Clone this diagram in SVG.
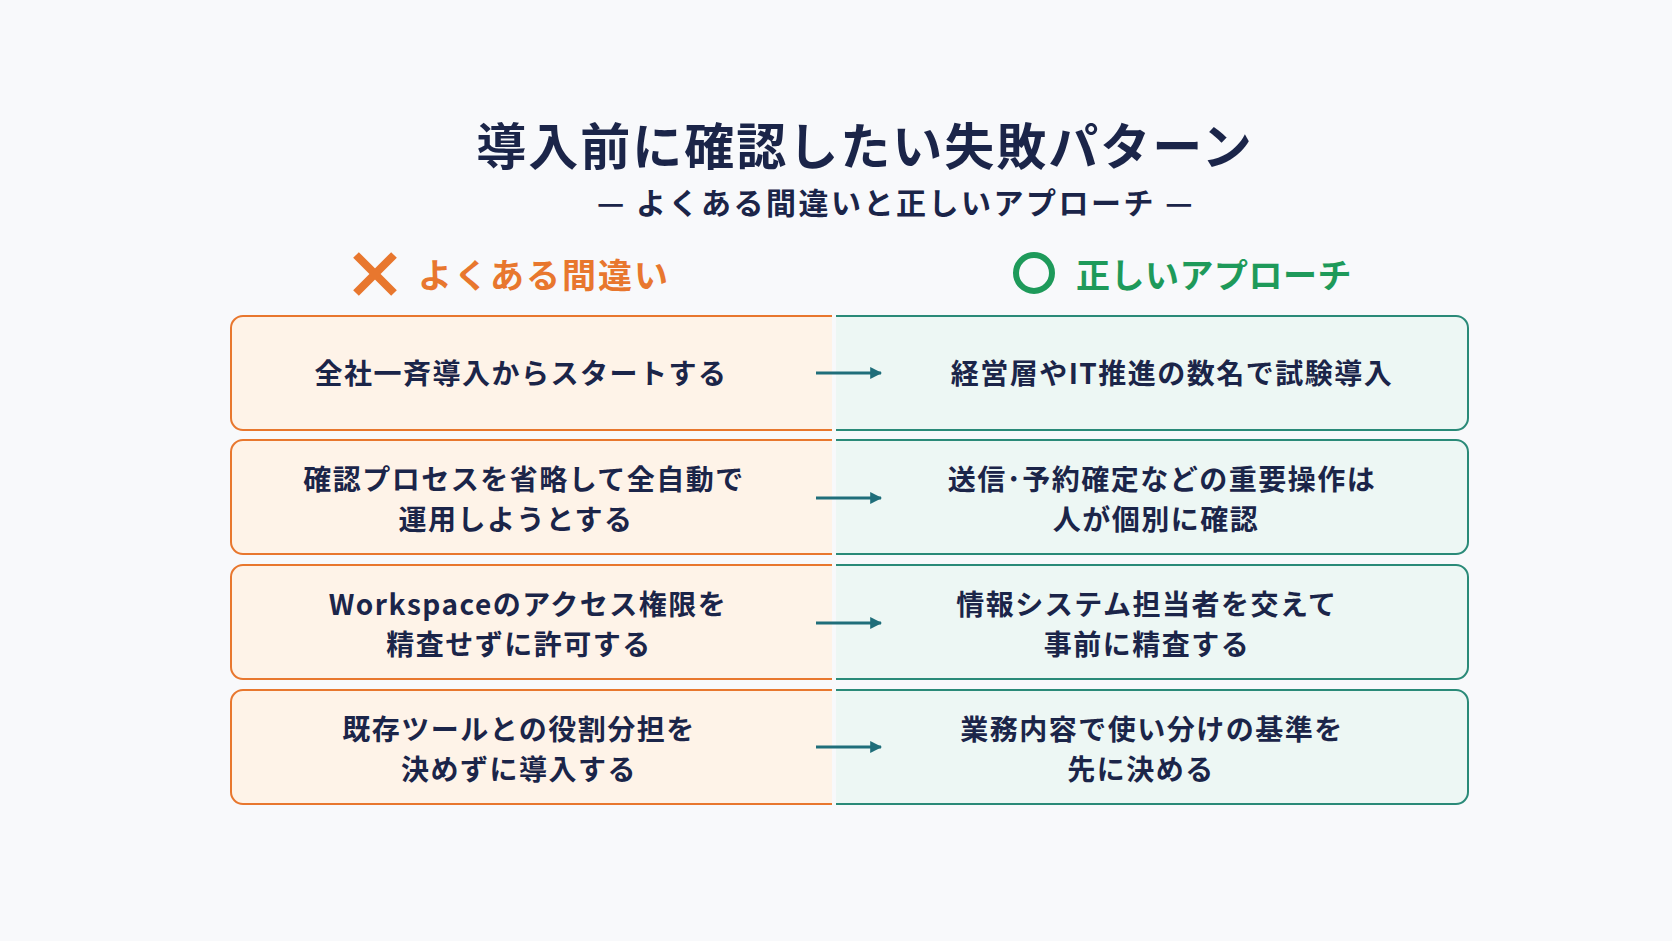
<svg xmlns="http://www.w3.org/2000/svg" width="1672" height="941" viewBox="0 0 1672 941">
<defs>
<style>
.t{font-family:"Noto Sans CJK JP","Noto Sans",sans-serif;font-weight:700;fill:#1B2549;text-anchor:middle}
.b{font-size:28px;letter-spacing:1.5px}
.lb{fill:#FEF3E8;stroke:#E8772E;stroke-width:2}
.rb{fill:#EDF7F4;stroke:#2A8A78;stroke-width:2}
.ar{stroke:#1F6E7A;stroke-width:3;fill:none}
</style>
<marker id="ah" viewBox="0 0 10 10" refX="9" refY="5" markerWidth="4" markerHeight="4" orient="auto"><path d="M0,0L10,5L0,10z" fill="#1F6E7A"/></marker>
</defs>
<rect width="1672" height="941" fill="#F8F9FB"/>
<text class="t" x="865" y="165" font-size="50" style="letter-spacing:2px">導入前に確認したい失敗パターン</text>
<text class="t" x="896" y="214" font-size="30" style="letter-spacing:2.5px">— よくある間違いと正しいアプローチ —</text>
<g id="hdr-left">
<path d="M356,255L394,293M394,255L356,293" stroke="#E8772E" stroke-width="8"/>
<text class="t" x="418" y="288" font-size="34" style="text-anchor:start;fill:#E8772E;letter-spacing:2px">よくある間違い</text>
</g>
<g id="hdr-right">
<circle cx="1034" cy="273" r="18" fill="none" stroke="#1E9A5A" stroke-width="6"/>
<text class="t" x="1076" y="288" font-size="34" style="text-anchor:start;fill:#1E9A5A;letter-spacing:0.5px">正しいアプローチ</text>
</g>
<g id="row1-left"><path class="lb" d="M832,316H243a12,12 0 0 0-12,12V418a12,12 0 0 0 12,12H832"/><text class="t b" x="521" y="384">全社一斉導入からスタートする</text></g>
<g id="row1-right"><path class="rb" d="M836,316H1456a12,12 0 0 1 12,12V418a12,12 0 0 1-12,12H836"/><text class="t b" x="1172" y="384">経営層やIT推進の数名で試験導入</text></g>
<g id="row2-left"><path class="lb" d="M832,440H243a12,12 0 0 0-12,12V542a12,12 0 0 0 12,12H832"/><text class="t b" x="524" y="490">確認プロセスを省略して全自動で</text><text class="t b" x="516" y="530">運用しようとする</text></g>
<g id="row2-right"><path class="rb" d="M836,440H1456a12,12 0 0 1 12,12V542a12,12 0 0 1-12,12H836"/><text class="t b" x="1162" y="490">送信･予約確定などの重要操作は</text><text class="t b" x="1156" y="530">人が個別に確認</text></g>
<g id="row3-left"><path class="lb" d="M832,565H243a12,12 0 0 0-12,12V667a12,12 0 0 0 12,12H832"/><text class="t b" x="528" y="615">Workspaceのアクセス権限を</text><text class="t b" x="519" y="655">精査せずに許可する</text></g>
<g id="row3-right"><path class="rb" d="M836,565H1456a12,12 0 0 1 12,12V667a12,12 0 0 1-12,12H836"/><text class="t b" x="1147" y="615">情報システム担当者を交えて</text><text class="t b" x="1147" y="655">事前に精査する</text></g>
<g id="row4-left"><path class="lb" d="M832,690H243a12,12 0 0 0-12,12V792a12,12 0 0 0 12,12H832"/><text class="t b" x="519" y="740">既存ツールとの役割分担を</text><text class="t b" x="519" y="780">決めずに導入する</text></g>
<g id="row4-right"><path class="rb" d="M836,690H1456a12,12 0 0 1 12,12V792a12,12 0 0 1-12,12H836"/><text class="t b" x="1152" y="740">業務内容で使い分けの基準を</text><text class="t b" x="1141" y="780">先に決める</text></g>
<g id="connectors">
<path class="ar" d="M816,373H881" marker-end="url(#ah)"/>
<path class="ar" d="M816,498H881" marker-end="url(#ah)"/>
<path class="ar" d="M816,623H881" marker-end="url(#ah)"/>
<path class="ar" d="M816,747H881" marker-end="url(#ah)"/>
</g>
</svg>
